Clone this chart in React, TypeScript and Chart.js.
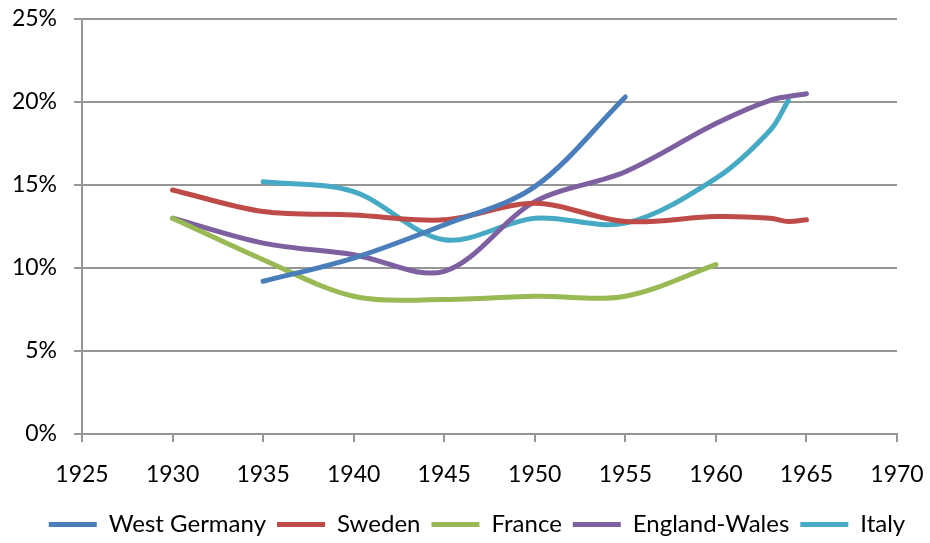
import React, { useEffect, useRef } from "react";
import { Chart, registerables } from "chart.js";

Chart.register(...registerables);

// Years and values (percent) per series
const westGermanyYears = [1935, 1940, 1945, 1950, 1955];
const westGermanyValues = [9.2, 10.6, 12.6, 14.9, 20.3];

const swedenYears = [1930, 1935, 1940, 1945, 1950, 1955, 1960, 1963, 1964, 1965];
const swedenValues = [14.7, 13.4, 13.2, 12.9, 13.9, 12.8, 13.1, 13.0, 12.8, 12.9];

const franceYears = [1930, 1935, 1940, 1945, 1950, 1955, 1960];
const franceValues = [13.0, 10.5, 8.3, 8.1, 8.3, 8.3, 10.2];

const englandWalesYears = [1930, 1935, 1940, 1945, 1950, 1955, 1960, 1963, 1965];
const englandWalesValues = [13.0, 11.5, 10.8, 9.8, 14.0, 15.8, 18.7, 20.1, 20.5];

const italyYears = [1935, 1940, 1945, 1950, 1955, 1960, 1963, 1964];
const italyValues = [15.2, 14.6, 11.7, 13.0, 12.7, 15.4, 18.3, 20.1];

const seriesNames = ["West Germany", "Sweden", "France", "England-Wales", "Italy"];
const seriesColors = ["#4A7EBB", "#BE4B48", "#98B954", "#7D60A0", "#46AAC5"];

const xTickMin = 1925;
const xTickMax = 1970;
const xTickStep = 5;
const yTickMin = 0;
const yTickMax = 25;
const yTickStep = 5;

const FONT = "Lato, 'Open Sans', sans-serif";

function toPoints(xs: number[], ys: number[]) {
  return xs.map((x, i) => ({ x, y: ys[i] }));
}

export default function App() {
  const canvasRef = useRef<HTMLCanvasElement | null>(null);

  useEffect(() => {
    if (!canvasRef.current) return;
    const allYears = [westGermanyYears, swedenYears, franceYears, englandWalesYears, italyYears];
    const allValues = [westGermanyValues, swedenValues, franceValues, englandWalesValues, italyValues];
    const datasets = seriesNames.map((name, i) => ({
      label: name,
      data: toPoints(allYears[i], allValues[i]),
      borderColor: seriesColors[i],
      backgroundColor: seriesColors[i],
      borderWidth: 5,
      borderCapStyle: "round" as const,
      borderJoinStyle: "round" as const,
      pointRadius: 0,
      pointHoverRadius: 0,
      tension: 0.33,
      fill: false,
    }));

    const gridColor = "#969696";

    const chart = new Chart(canvasRef.current, {
      type: "line",
      data: { datasets },
      options: {
        animation: false,
        responsive: true,
        maintainAspectRatio: false,
        layout: { padding: { top: 19, right: -24, bottom: -3.5, left: 0 } },
        plugins: {
          tooltip: { enabled: false },
          legend: {
            position: "bottom",
            labels: {
              usePointStyle: true,
              pointStyle: "line",
              pointStyleWidth: 48,
              padding: 11,
              color: "#000",
              font: { family: FONT, size: 24 },
            },
          },
        },
        scales: {
          x: {
            type: "linear",
            min: xTickMin,
            max: xTickMax,
            afterFit: (scale: any) => {
              scale.height = 67.5;
              scale.paddingLeft = 0;
              scale.paddingRight = 33;
            },
            ticks: {
              stepSize: xTickStep,
              color: "#000",
              padding: 19,
              maxRotation: 0,
              font: { family: FONT, size: 23 },
              callback: (v: any) => String(v),
            },
            grid: {
              drawOnChartArea: false,
              drawTicks: true,
              tickLength: 8,
              color: gridColor,
              lineWidth: 2,
            },
            border: { color: gridColor, width: 2 },
          },
          y: {
            type: "linear",
            min: yTickMin,
            max: yTickMax,
            afterFit: (scale: any) => {
              scale.width = 82;
              scale.paddingTop = 0;
              scale.paddingBottom = 0;
            },
            ticks: {
              stepSize: yTickStep,
              color: "#000",
              padding: 17,
              font: { family: FONT, size: 23 },
              callback: (v: any) => v + "%",
            },
            grid: {
              drawTicks: true,
              tickLength: 8,
              color: gridColor,
              lineWidth: 2,
            },
            border: { color: gridColor, width: 2 },
          },
        },
      },
    });
    return () => chart.destroy();
  }, []);

  return (
    <div style={{ position: "absolute", left: 0, top: 0, width: 930, height: 543, background: "#fff" }}>
      <canvas ref={canvasRef} />
    </div>
  );
}
